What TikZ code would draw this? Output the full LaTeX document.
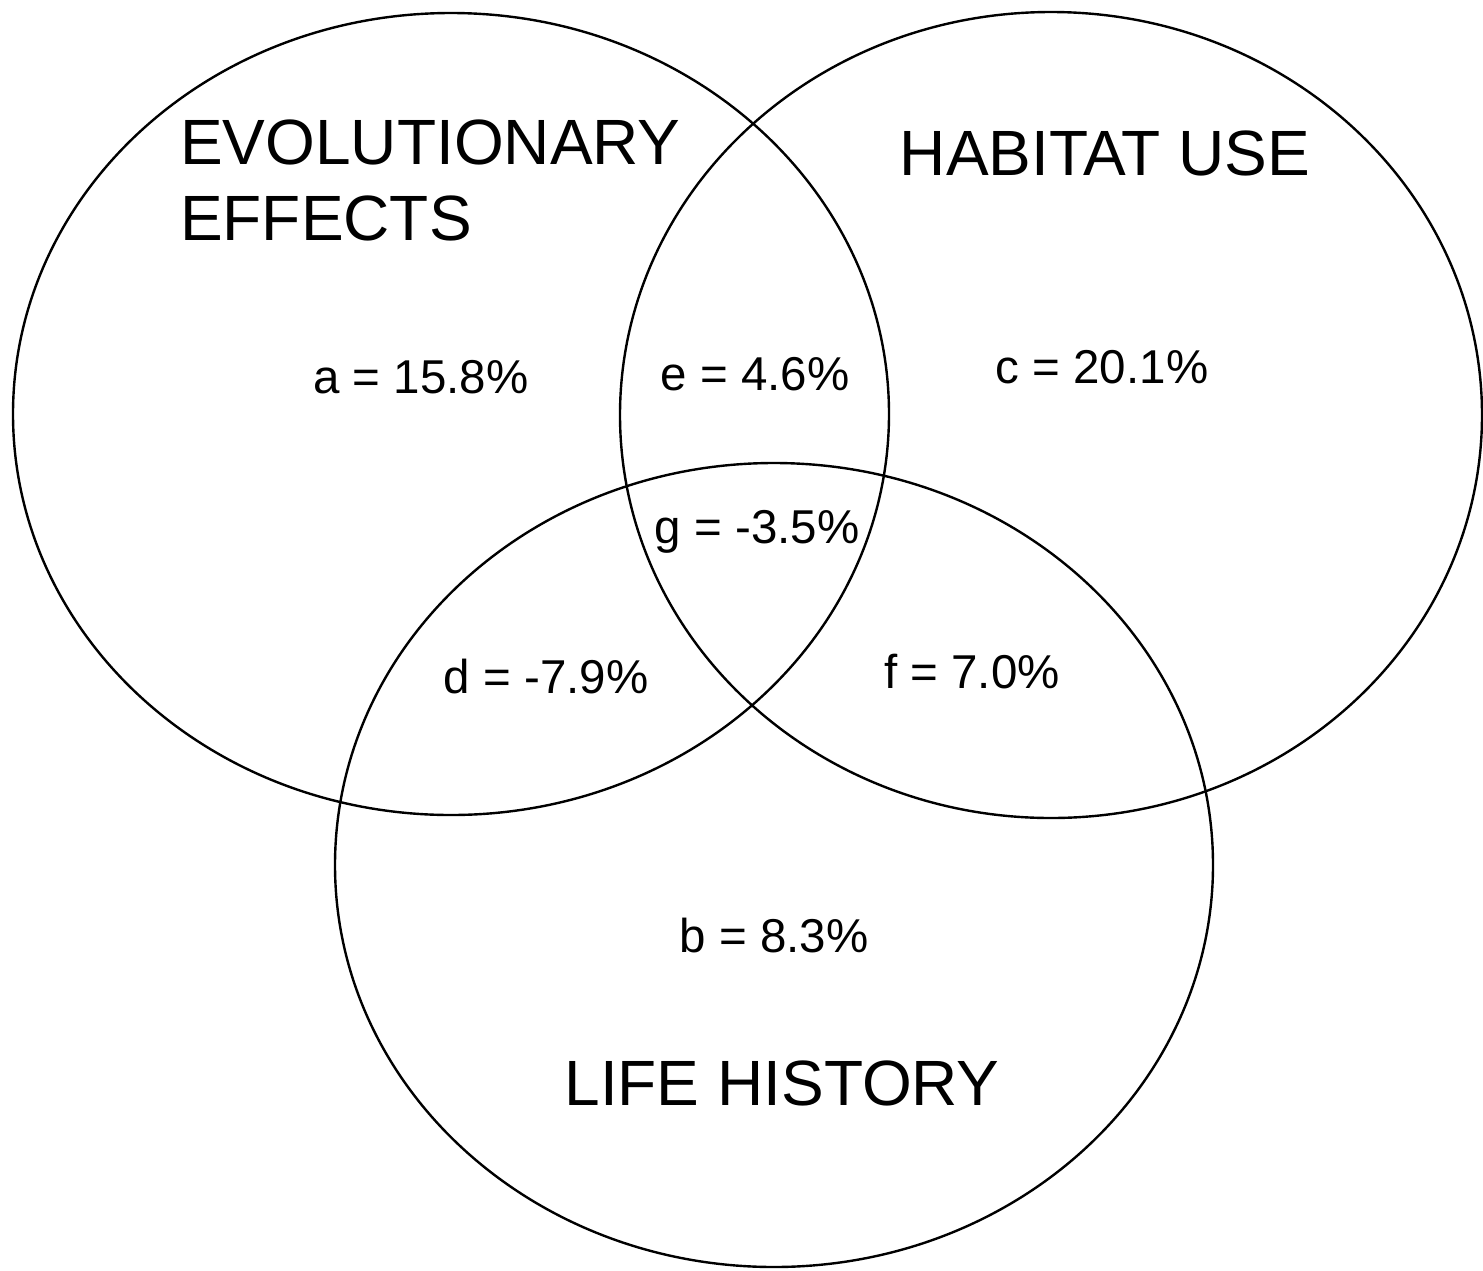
\documentclass[tikz,border=0pt]{standalone}
\usepackage{fontspec}
\setmainfont{Liberation Sans}
\begin{document}
\begin{tikzpicture}[x=1pt,y=-1pt,
  setline/.style={draw=black,line width=2.4pt},
  title/.style={font=\fontsize{64}{76}\selectfont,inner sep=0pt},
  val/.style={font=\fontsize{47.5}{56}\selectfont,inner sep=0pt,anchor=base}]
\useasboundingbox (0,0) rectangle (1483,1270);
\draw[setline] (451,414) ellipse [x radius=438, y radius=401];
\draw[setline] (1051,415) ellipse [x radius=431, y radius=403];
\draw[setline] (774,865) ellipse [x radius=439, y radius=402];
\node[title,anchor=north west,align=left] (evo) at (180,120) {EVOLUTIONARY\\EFFECTS};
\node[title,anchor=base] (hab) at (1105,175) {HABITAT USE};
\node[title,anchor=base] (life) at (782,1105) {LIFE HISTORY};
\node[val] (a) at (421,393) {a = 15.8\%};
\node[val] (e) at (755,390) {e = 4.6\%};
\node[val] (c) at (1102,383) {c = 20.1\%};
\node[val] (g) at (757,543) {g = -3.5\%};
\node[val] (d) at (546,693) {d = -7.9\%};
\node[val] (f) at (972,688) {f = 7.0\%};
\node[val] (b) at (774,952) {b = 8.3\%};
\end{tikzpicture}
\end{document}
